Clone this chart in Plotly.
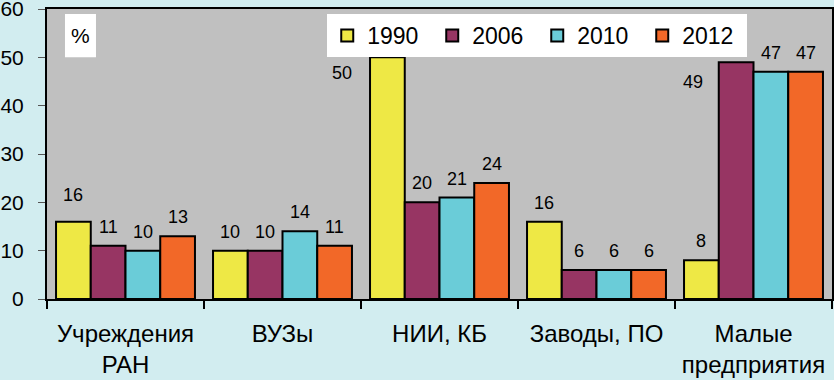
import plotly.graph_objects as go

categories = ["Учреждения<br>РАН", "ВУЗы", "НИИ, КБ", "Заводы, ПО", "Малые<br>предприятия"]
years = ["1990", "2006", "2010", "2012"]
v1990 = [16, 10, 50, 16, 8]
v2006 = [11, 10, 20, 6, 49]
v2010 = [10, 14, 21, 6, 47]
v2012 = [13, 11, 24, 6, 47]
y_ticks = [0, 10, 20, 30, 40, 50, 60]

series = [v1990, v2006, v2010, v2012]
colors = ["#EEE845", "#973563", "#6ACCD8", "#F26828"]
FONT = "Liberation Sans, Arial, sans-serif"
BARGAP = 0.115

fig = go.Figure()
for name, vals, col in zip(years, series, colors):
    fig.add_trace(go.Bar(
        x=categories, y=vals, name=name,
        marker=dict(color=col, line=dict(color="black", width=2)),
    ))

# label placement tweaks (pixel shifts) for a few labels
special = {(0, 0): (0, 27), (2, 0): (-45, -16), (4, 1): (-43, -20)}
w = (1 - BARGAP) / len(series)
for j, vals in enumerate(series):
    for i, v in enumerate(vals):
        xs, ys = special.get((i, j), (0, 19))
        fig.add_annotation(
            x=i + (j - 1.5) * w, y=v, xref="x", yref="y",
            text=str(v), showarrow=False, xshift=xs, yshift=ys,
            yanchor="middle", xanchor="center",
            font=dict(family=FONT, size=18, color="black"),
        )

# "%" box
fig.add_shape(type="rect", xref="paper", yref="paper",
              x0=0.0229, x1=0.0624, y0=0.834, y1=0.983,
              fillcolor="white", line=dict(width=0), layer="below")
fig.add_annotation(x=0.0427, y=0.91, xref="paper", yref="paper",
                   text="%", showarrow=False, xanchor="center", yanchor="middle",
                   font=dict(family=FONT, size=21, color="black"))

fig.update_layout(
    width=834, height=380,
    margin=dict(l=47, r=2, t=9, b=81, autoexpand=False),
    paper_bgcolor="#D2EDF0",
    plot_bgcolor="#C0C0C0",
    barmode="group", bargap=BARGAP, bargroupgap=0,
    font=dict(family=FONT, color="black"),
    showlegend=True,
    legend=dict(
        orientation="h", x=0.357, y=0.983, xanchor="left", yanchor="top",
        bgcolor="white", borderwidth=0,
        font=dict(family=FONT, size=23, color="black"),
        entrywidth=60, entrywidthmode="pixels",
        itemsizing="constant",
    ),
    xaxis=dict(
        automargin=False,
        showline=True, linecolor="black", linewidth=2, mirror=True,
        ticks="outside", tickson="boundaries", ticklen=8, tickwidth=2, tickcolor="black",
        tickfont=dict(family=FONT, size=24, color="black"),
        ticklabelstandoff=12, ticklabeloverflow="allow",
        showgrid=False,
    ),
    yaxis=dict(
        automargin=False,
        range=[0, 60], tickvals=y_ticks,
        showline=True, linecolor="black", linewidth=2, mirror=True,
        ticks="outside", ticklen=7, tickwidth=1, tickcolor="#555555",
        tickfont=dict(family=FONT, size=21, color="black"),
        ticklabelstandoff=10, ticklabeloverflow="allow",
        showgrid=False, zeroline=False,
    ),
)

fig.write_html(
    "out.html",
    config={"displayModeBar": False},
    post_script="document.body.style.margin='0';document.body.style.padding='0';",
)
